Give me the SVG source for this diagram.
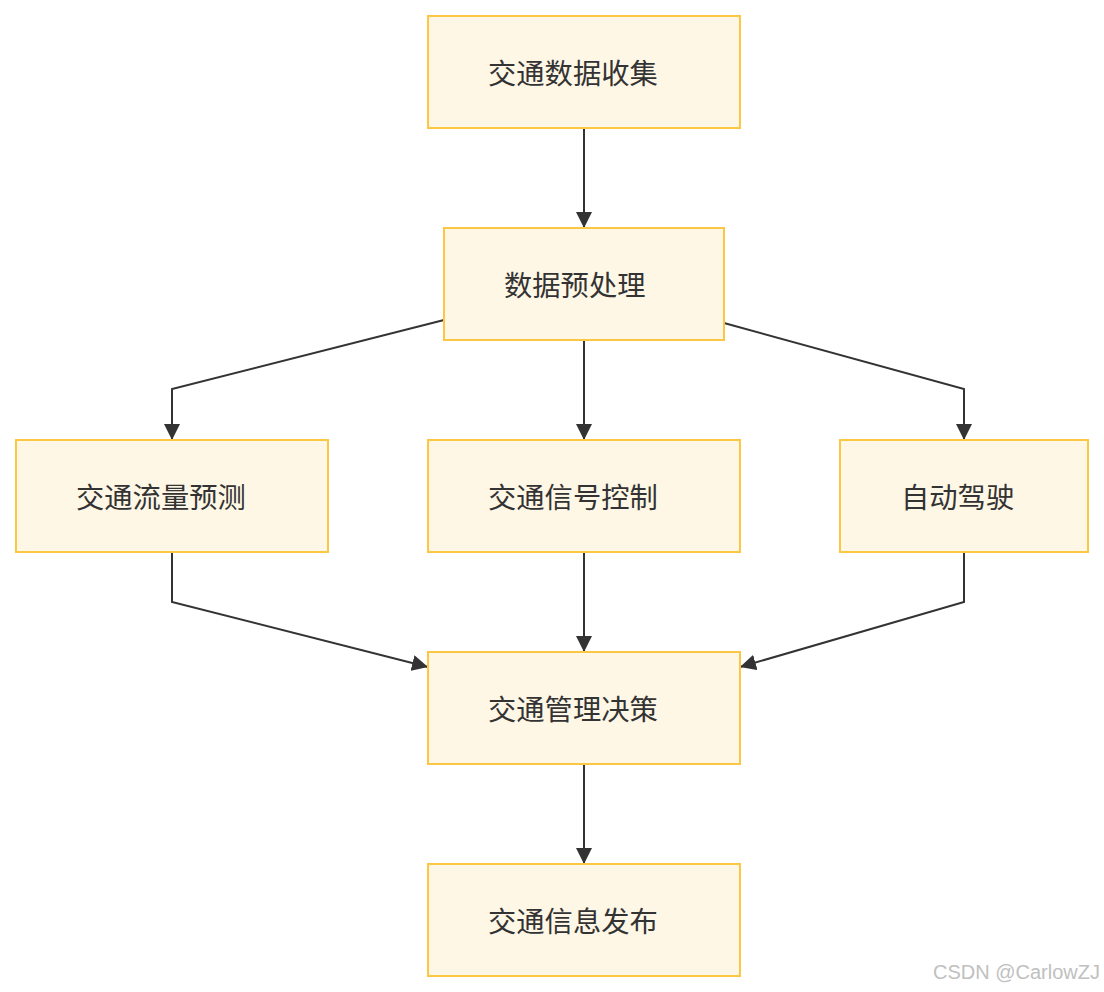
<svg xmlns="http://www.w3.org/2000/svg" width="1104" height="992" viewBox="0 0 1104 992">
<style>
.box{fill:#fff7e6;stroke:#fcc844;stroke-width:2}
.lbl{font-family:"Noto Sans CJK SC","Noto Sans",sans-serif;font-size:28.3px;fill:#333;dominant-baseline:central}
.edge{fill:none;stroke:#333;stroke-width:2}
.wm{font-family:"Liberation Sans",Arial,sans-serif;font-size:20px;fill:#c0c0c0}
</style>
<defs>
<marker id="arrow" viewBox="0 0 16 16" refX="16" refY="8" markerWidth="16" markerHeight="16" markerUnits="userSpaceOnUse" orient="auto">
<path d="M0,0 L16,8 L0,16 z" fill="#333"/>
</marker>
</defs>
<rect width="1104" height="992" fill="#fff"/>
<g id="connectors">
<path class="edge" d="M584,128 V228" marker-end="url(#arrow)"/>
<path class="edge" d="M444,320 L172,389 V440" marker-end="url(#arrow)"/>
<path class="edge" d="M584,340 V440" marker-end="url(#arrow)"/>
<path class="edge" d="M724,323 L964,389 V440" marker-end="url(#arrow)"/>
<path class="edge" d="M172,552 V602 L428,667" marker-end="url(#arrow)"/>
<path class="edge" d="M584,552 V652" marker-end="url(#arrow)"/>
<path class="edge" d="M964,552 V602 L740,667" marker-end="url(#arrow)"/>
<path class="edge" d="M584,764 V864" marker-end="url(#arrow)"/>
</g>
<g id="n1"><rect class="box" x="428" y="16" width="312" height="112"/><text class="lbl" x="488" y="71">交通数据收集</text></g>
<g id="n2"><rect class="box" x="444" y="228" width="280" height="112"/><text class="lbl" x="504" y="283">数据预处理</text></g>
<g id="n3"><rect class="box" x="16" y="440" width="312" height="112"/><text class="lbl" x="76" y="495">交通流量预测</text></g>
<g id="n4"><rect class="box" x="428" y="440" width="312" height="112"/><text class="lbl" x="488" y="495">交通信号控制</text></g>
<g id="n5"><rect class="box" x="840" y="440" width="248" height="112"/><text class="lbl" x="901" y="495">自动驾驶</text></g>
<g id="n6"><rect class="box" x="428" y="652" width="312" height="112"/><text class="lbl" x="488" y="707">交通管理决策</text></g>
<g id="n7"><rect class="box" x="428" y="864" width="312" height="112"/><text class="lbl" x="488" y="919">交通信息发布</text></g>
<text class="wm" x="1100" y="979" text-anchor="end">CSDN @CarlowZJ</text>
</svg>
